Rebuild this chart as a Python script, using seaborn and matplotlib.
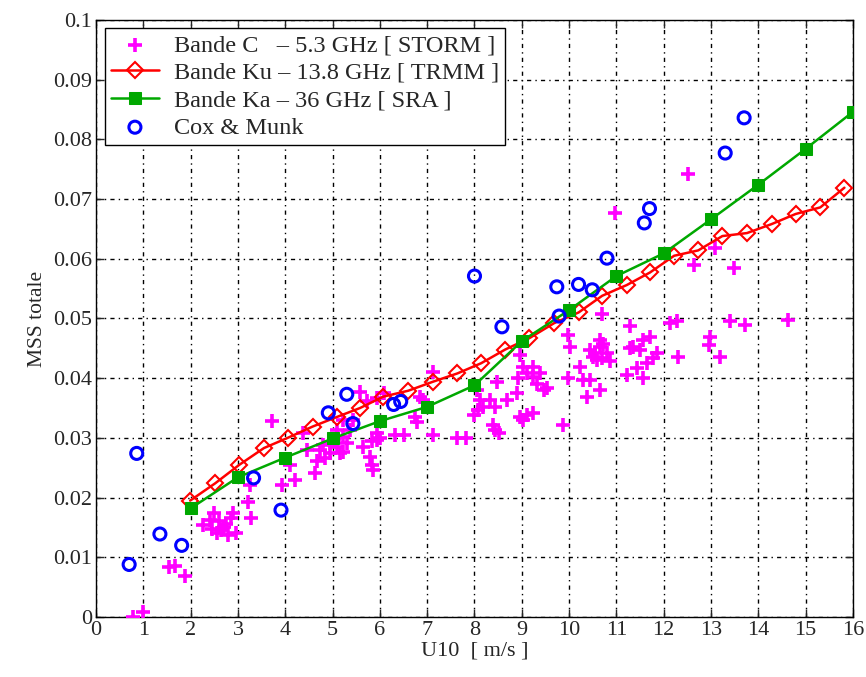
import numpy as np
import pandas as pd
import matplotlib
matplotlib.use("Agg")
import matplotlib.pyplot as plt
import seaborn as sns

# Bande C - 5.3 GHz (STORM) scatter
storm_u = [0.78, 1.00, 1.55, 1.67, 1.88,
           2.27, 2.50, 2.40, 2.45, 2.55, 2.65, 2.60, 2.75, 2.85, 2.90, 2.80, 2.95, 2.70,
           3.22, 3.27, 3.25, 3.73, 3.93, 4.10, 4.21, 4.63, 4.38,
           4.45, 4.73, 4.80, 4.95, 5.09, 5.22, 5.30, 4.67, 4.84, 4.95, 5.16, 5.02, 5.23, 5.09, 5.23, 5.37, 5.43,
           5.65, 5.79, 5.83, 5.86, 5.93, 5.83, 5.93, 5.72, 5.93, 5.58,
           6.09, 6.85, 6.91, 7.13, 6.79, 6.74, 6.32, 6.50, 6.00, 7.13, 7.62, 7.83,
           8.05, 8.12, 8.19, 7.98, 8.08, 8.33, 8.44, 8.47, 8.40, 8.51, 8.43,
           8.68, 8.89, 8.93, 9.03, 9.10, 9.24, 9.32, 9.39, 9.46, 9.53, 9.24,
           8.96, 9.10, 9.24, 9.03, 8.96, 9.88, 9.98,
           10.23, 10.30, 10.44, 10.37, 10.66,
           10.44, 10.55, 10.66, 10.72, 10.80, 10.69, 10.58, 10.87, 10.51, 10.66,
           9.98, 10.02, 10.70, 11.29,
           11.22, 11.57, 11.43, 11.64, 11.78, 11.85, 11.57, 11.71, 11.50, 11.36, 11.29,
           12.13, 12.28, 12.31,
           12.52, 10.98, 13.09, 12.63, 13.48,
           13.40, 13.72, 12.98, 12.95, 13.19, 14.62]
storm_mss = [0.0000, 0.0008, 0.0083, 0.0086, 0.0069,
             0.0154, 0.0174, 0.0162, 0.0148, 0.0140, 0.0145, 0.0160, 0.0156, 0.0165, 0.0175, 0.0137, 0.0140, 0.0150,
             0.0193, 0.0165, 0.0221, 0.0329, 0.0221, 0.0255, 0.0229, 0.0242, 0.0308,
             0.0280, 0.0280, 0.0288, 0.0291, 0.0285, 0.0277, 0.0291, 0.0262, 0.0267, 0.0275, 0.0274, 0.0298, 0.0302, 0.0313, 0.0330, 0.0313, 0.0330,
             0.0285, 0.0268, 0.0255, 0.0246, 0.0296, 0.0294, 0.0308, 0.0361, 0.0366, 0.0377,
             0.0375, 0.0369, 0.0363, 0.0411, 0.0327, 0.0335, 0.0305, 0.0305, 0.0300, 0.0305, 0.0299, 0.0299,
             0.0380, 0.0363, 0.0352, 0.0338, 0.0347, 0.0363, 0.0352, 0.0394, 0.0322, 0.0308, 0.0313,
             0.0363, 0.0375, 0.0400, 0.0419, 0.0408, 0.0402, 0.0391, 0.0408, 0.0380, 0.0383, 0.0419,
             0.0335, 0.0338, 0.0341, 0.0330, 0.0439, 0.0322, 0.0400,
             0.0419, 0.0397, 0.0397, 0.0369, 0.0380,
             0.0447, 0.0442, 0.0453, 0.0458, 0.0442, 0.0433, 0.0430, 0.0428, 0.0436, 0.0464,
             0.0472, 0.0453, 0.0508, 0.0487,
             0.0405, 0.0400, 0.0417, 0.0425, 0.0433, 0.0442, 0.0464, 0.0469, 0.0447, 0.0453, 0.0450,
             0.0492, 0.0495, 0.0436,
             0.0742, 0.0677, 0.0618, 0.0590, 0.0585,
             0.0495, 0.0489, 0.0469, 0.0456, 0.0436, 0.0497]

# Bande Ku - 13.8 GHz (TRMM)
ku_u = [1.99, 2.52, 3.03, 3.55, 4.05, 4.58, 5.09, 5.58, 6.07, 6.60, 7.12, 7.64, 8.14, 8.65,
        9.16, 9.68, 10.20, 10.70, 11.22, 11.71, 12.22, 12.73, 13.24, 13.76, 14.28, 14.79, 15.31, 15.82]
ku_mss = [0.0195, 0.0224, 0.0255, 0.0283, 0.0300, 0.0319, 0.0335, 0.0350, 0.0369, 0.0379, 0.0394,
          0.0408, 0.0425, 0.0448, 0.0467, 0.0492, 0.0510, 0.0538, 0.0556, 0.0577, 0.0605, 0.0614,
          0.0638, 0.0643, 0.0658, 0.0675, 0.0686, 0.0719]

# Bande Ka - 36 GHz (SRA)
ka_u = [2, 3, 4, 5, 6, 7, 8, 9, 10, 11, 12, 13, 14, 15, 16]
ka_mss = [0.0182, 0.0234, 0.0267, 0.0299, 0.0328, 0.0352, 0.0388, 0.0462, 0.0514, 0.0571,
          0.0609, 0.0666, 0.0724, 0.0784, 0.0846]

# Cox & Munk
cm_u = [0.70, 0.86, 1.35, 1.81, 3.33, 3.91, 4.91, 5.30, 5.43, 6.29, 6.44, 8.00, 8.58, 9.74,
        9.79, 10.20, 10.49, 10.80, 11.59, 11.70, 13.30, 13.70]
cm_mss = [0.0088, 0.0274, 0.0139, 0.0120, 0.0233, 0.0179, 0.0342, 0.0373, 0.0324, 0.0356, 0.0361,
          0.0571, 0.0486, 0.0553, 0.0504, 0.0557, 0.0548, 0.0601, 0.0660, 0.0684, 0.0777, 0.0836]

sns.set_style("ticks")
plt.rcParams['font.family'] = ['Liberation Serif', 'DejaVu Serif']

fig = plt.figure(figsize=(8.66, 6.77), dpi=100)
ax = fig.add_axes([0.1109, 0.0886, 0.874, 0.882])

sns.scatterplot(x=storm_u, y=storm_mss, ax=ax, marker='+', s=95, color='#ff00ff',
                linewidth=2.6, label='Bande C   \u2013 5.3 GHz [ STORM ]', zorder=3)
sns.lineplot(x=ku_u, y=ku_mss, ax=ax, color='#ff0000', lw=1.8, marker='D', markersize=8,
             markerfacecolor='none', markeredgecolor='#ff0000', markeredgewidth=1.5,
             label='Bande Ku \u2013 13.8 GHz [ TRMM ]', zorder=4)
sns.lineplot(x=ka_u, y=ka_mss, ax=ax, color='#00a800', lw=1.8, marker='s', markersize=8,
             markerfacecolor='#00a800', markeredgecolor='#00a800',
             label='Bande Ka \u2013 36 GHz [ SRA ]', zorder=4)
sns.scatterplot(x=cm_u, y=cm_mss, ax=ax, marker='o', s=75, facecolor='none',
                edgecolor='#0000ff', linewidth=2.2, label='Cox & Munk', zorder=5)

ax.set_xlim(0, 16)
ax.set_ylim(0, 0.1)
ax.set_xticks(np.arange(0, 17, 1))
ax.set_yticks(np.arange(0, 0.101, 0.01))
ax.set_xticklabels([str(i) for i in range(17)])
ax.set_yticklabels(['0'] + ['%.2f' % v for v in np.arange(0.01, 0.1, 0.01)] + ['0.1'])
ax.grid(True, color='black', linestyle=(0, (3, 3, 1, 3)), linewidth=1.0)
ax.tick_params(direction='in', length=6, width=1, top=True, right=True, labelsize=16, pad=3)
for sp in ax.spines.values():
    sp.set_color('black')
    sp.set_linewidth(1)

ax.set_xlabel('U10  [ m/s ]', fontsize=16, labelpad=1)
ax.set_ylabel('MSS totale', fontsize=15.5, labelpad=4)

leg = ax.legend(loc='upper left', fontsize=17.5, frameon=True, fancybox=False, framealpha=1,
                edgecolor='black', borderpad=0.25, labelspacing=0.22, handlelength=2.0,
                handletextpad=0.6, borderaxespad=0.35)
leg.get_frame().set_linewidth(1)

fig.savefig('out.png', dpi=100)
